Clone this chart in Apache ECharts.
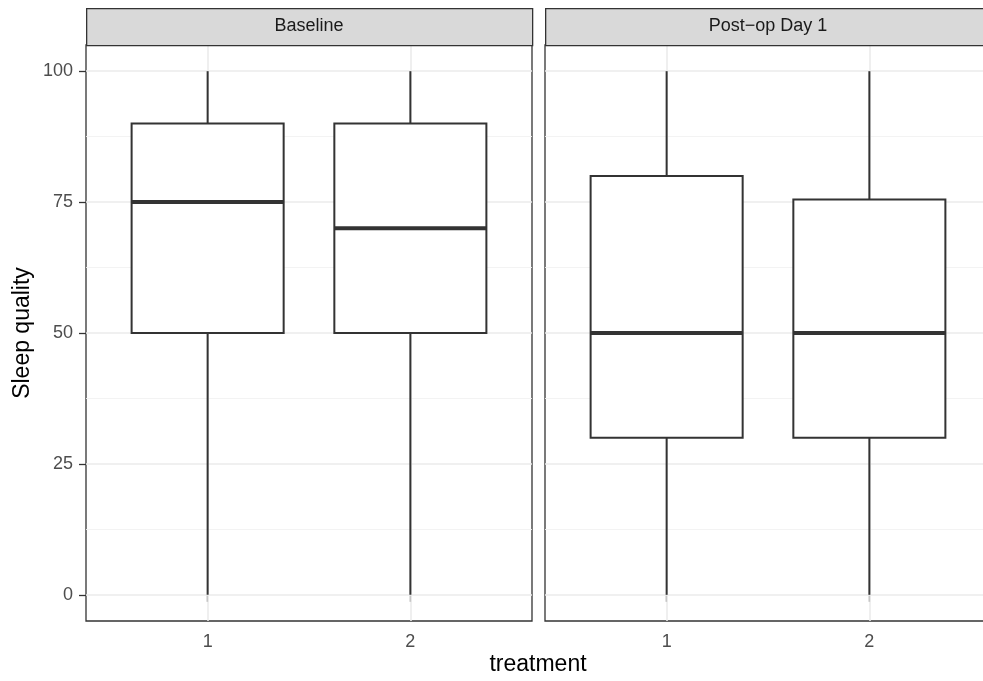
<!DOCTYPE html>
<html>
<head>
<meta charset="utf-8">
<script src="https://cdn.jsdelivr.net/npm/echarts@6/dist/echarts.min.js"></script>
<style>
html,body{margin:0;padding:0;background:#fff;overflow:hidden;}
#chart{width:1000px;height:681px;}
</style>
</head>
<body>
<div id="chart"></div>
<script>
// ---- data ----
const panels = ['Baseline', 'Post\u2212op Day 1'];
const treatments = [1, 2];
const yTicks = [0, 25, 50, 75, 100];
const yMinor = [12.5, 37.5, 62.5, 87.5];
// [min, q1, median, q3, max] per treatment
const baselineStats = [[0, 50, 75, 90, 100], [0, 50, 70, 90, 100]];
const postopStats = [[0, 30, 50, 80, 100], [0, 30, 50, 75.5, 100]];
const panelStats = [baselineStats, postopStats];

// ---- layout ----
const panelLeft = [86, 545];
const panelWidth = 446;
const plotTop = 45;
const plotHeight = 576;
const stripTop = 8;
const stripH = 37;
const FONT = 'Liberation Sans, Arial, Helvetica, sans-serif';

const chart = echarts.init(document.getElementById('chart'), null, {renderer: 'canvas'});

const grids = [], xAxes = [], yAxes = [], series = [], graphics = [];

panels.forEach((name, i) => {
  grids.push({
    left: panelLeft[i], top: plotTop, width: panelWidth, height: plotHeight,
    show: true, borderColor: '#333333', borderWidth: 1.3, backgroundColor: '#ffffff', containLabel: false
  });
  xAxes.push({
    type: 'value', gridIndex: i, min: 0.4, max: 2.6,
    axisLine: {show: false},
    splitLine: {show: false},
    axisTick: {show: true, customValues: treatments, length: 7, lineStyle: {color: '#333333', width: 1.3}},
    axisLabel: {show: true, customValues: treatments, margin: 12, color: '#4D4D4D', fontSize: 18, fontFamily: FONT,
      formatter: v => String(v)}
  });
  yAxes.push({
    type: 'value', gridIndex: i, min: -5, max: 105,
    axisLine: {show: false},
    splitLine: {show: false},
    axisTick: {show: i === 0, customValues: yTicks, length: 7, lineStyle: {color: '#333333', width: 1.3}},
    axisLabel: {show: i === 0, customValues: yTicks, margin: 13, color: '#4D4D4D', fontSize: 18, fontFamily: FONT,
      formatter: v => String(v)}
  });
  // grid lines
  const ml = [];
  yMinor.forEach(v => ml.push({yAxis: v, lineStyle: {color: '#F2F2F2', width: 0.9, type: 'solid'}}));
  yTicks.forEach(v => ml.push({yAxis: v, lineStyle: {color: '#EBEBEB', width: 1.6, type: 'solid'}}));
  treatments.forEach(v => ml.push({xAxis: v, lineStyle: {color: '#EBEBEB', width: 1.6, type: 'solid'}}));
  series.push({
    type: 'line', xAxisIndex: i, yAxisIndex: i, data: [], z: 1, silent: true,
    markLine: {silent: true, z: 1, symbol: ['none', 'none'], label: {show: false}, animation: false, data: ml}
  });
  // boxes
  const data = panelStats[i].map((s, j) => [treatments[j]].concat(s));
  series.push({
    type: 'custom', xAxisIndex: i, yAxisIndex: i, z: 10, animation: false,
    data: data,
    renderItem: function (params, api) {
      const x = api.value(0);
      const mn = api.coord([x, api.value(1)]);
      const q1 = api.coord([x, api.value(2)]);
      const md = api.coord([x, api.value(3)]);
      const q3 = api.coord([x, api.value(4)]);
      const mx = api.coord([x, api.value(5)]);
      const halfW = api.size([0.75, 0])[0] / 2;
      const cx = mn[0];
      const stroke = {stroke: '#333333', lineWidth: 2, fill: null};
      return {
        type: 'group',
        children: [
          {type: 'line', shape: {x1: cx, y1: mx[1], x2: cx, y2: q3[1]}, style: stroke},
          {type: 'line', shape: {x1: cx, y1: q1[1], x2: cx, y2: mn[1]}, style: stroke},
          {type: 'rect', shape: {x: cx - halfW, y: q3[1], width: 2 * halfW, height: q1[1] - q3[1]},
            style: {fill: '#ffffff', stroke: '#333333', lineWidth: 2}},
          {type: 'line', shape: {x1: cx - halfW, y1: md[1], x2: cx + halfW, y2: md[1]},
            style: {stroke: '#333333', lineWidth: 4}}
        ]
      };
    }
  });
  // strip
  graphics.push({
    type: 'rect', left: panelLeft[i], top: stripTop, z: 10,
    shape: {width: panelWidth, height: stripH},
    style: {fill: '#D9D9D9', stroke: '#333333', lineWidth: 1.3}
  });
  graphics.push({
    type: 'text', z: 11,
    x: panelLeft[i] + panelWidth / 2, y: stripTop + stripH / 2,
    style: {text: name, fill: '#1A1A1A', font: '18px ' + FONT, textAlign: 'center', textVerticalAlign: 'middle'}
  });
});

graphics.push({
  type: 'text', z: 11, x: 538, y: 665,
  style: {text: 'treatment', fill: '#000000', font: '23px ' + FONT, textAlign: 'center', textVerticalAlign: 'middle'}
});
graphics.push({
  type: 'text', z: 11, x: 23, y: 333, rotation: Math.PI / 2,
  style: {text: 'Sleep quality', fill: '#000000', font: '23px ' + FONT, textAlign: 'center', textVerticalAlign: 'middle'}
});

chart.setOption({
  animation: false,
  backgroundColor: '#ffffff',
  grid: grids,
  xAxis: xAxes,
  yAxis: yAxes,
  series: series,
  graphic: graphics
});
</script>
</body>
</html>
